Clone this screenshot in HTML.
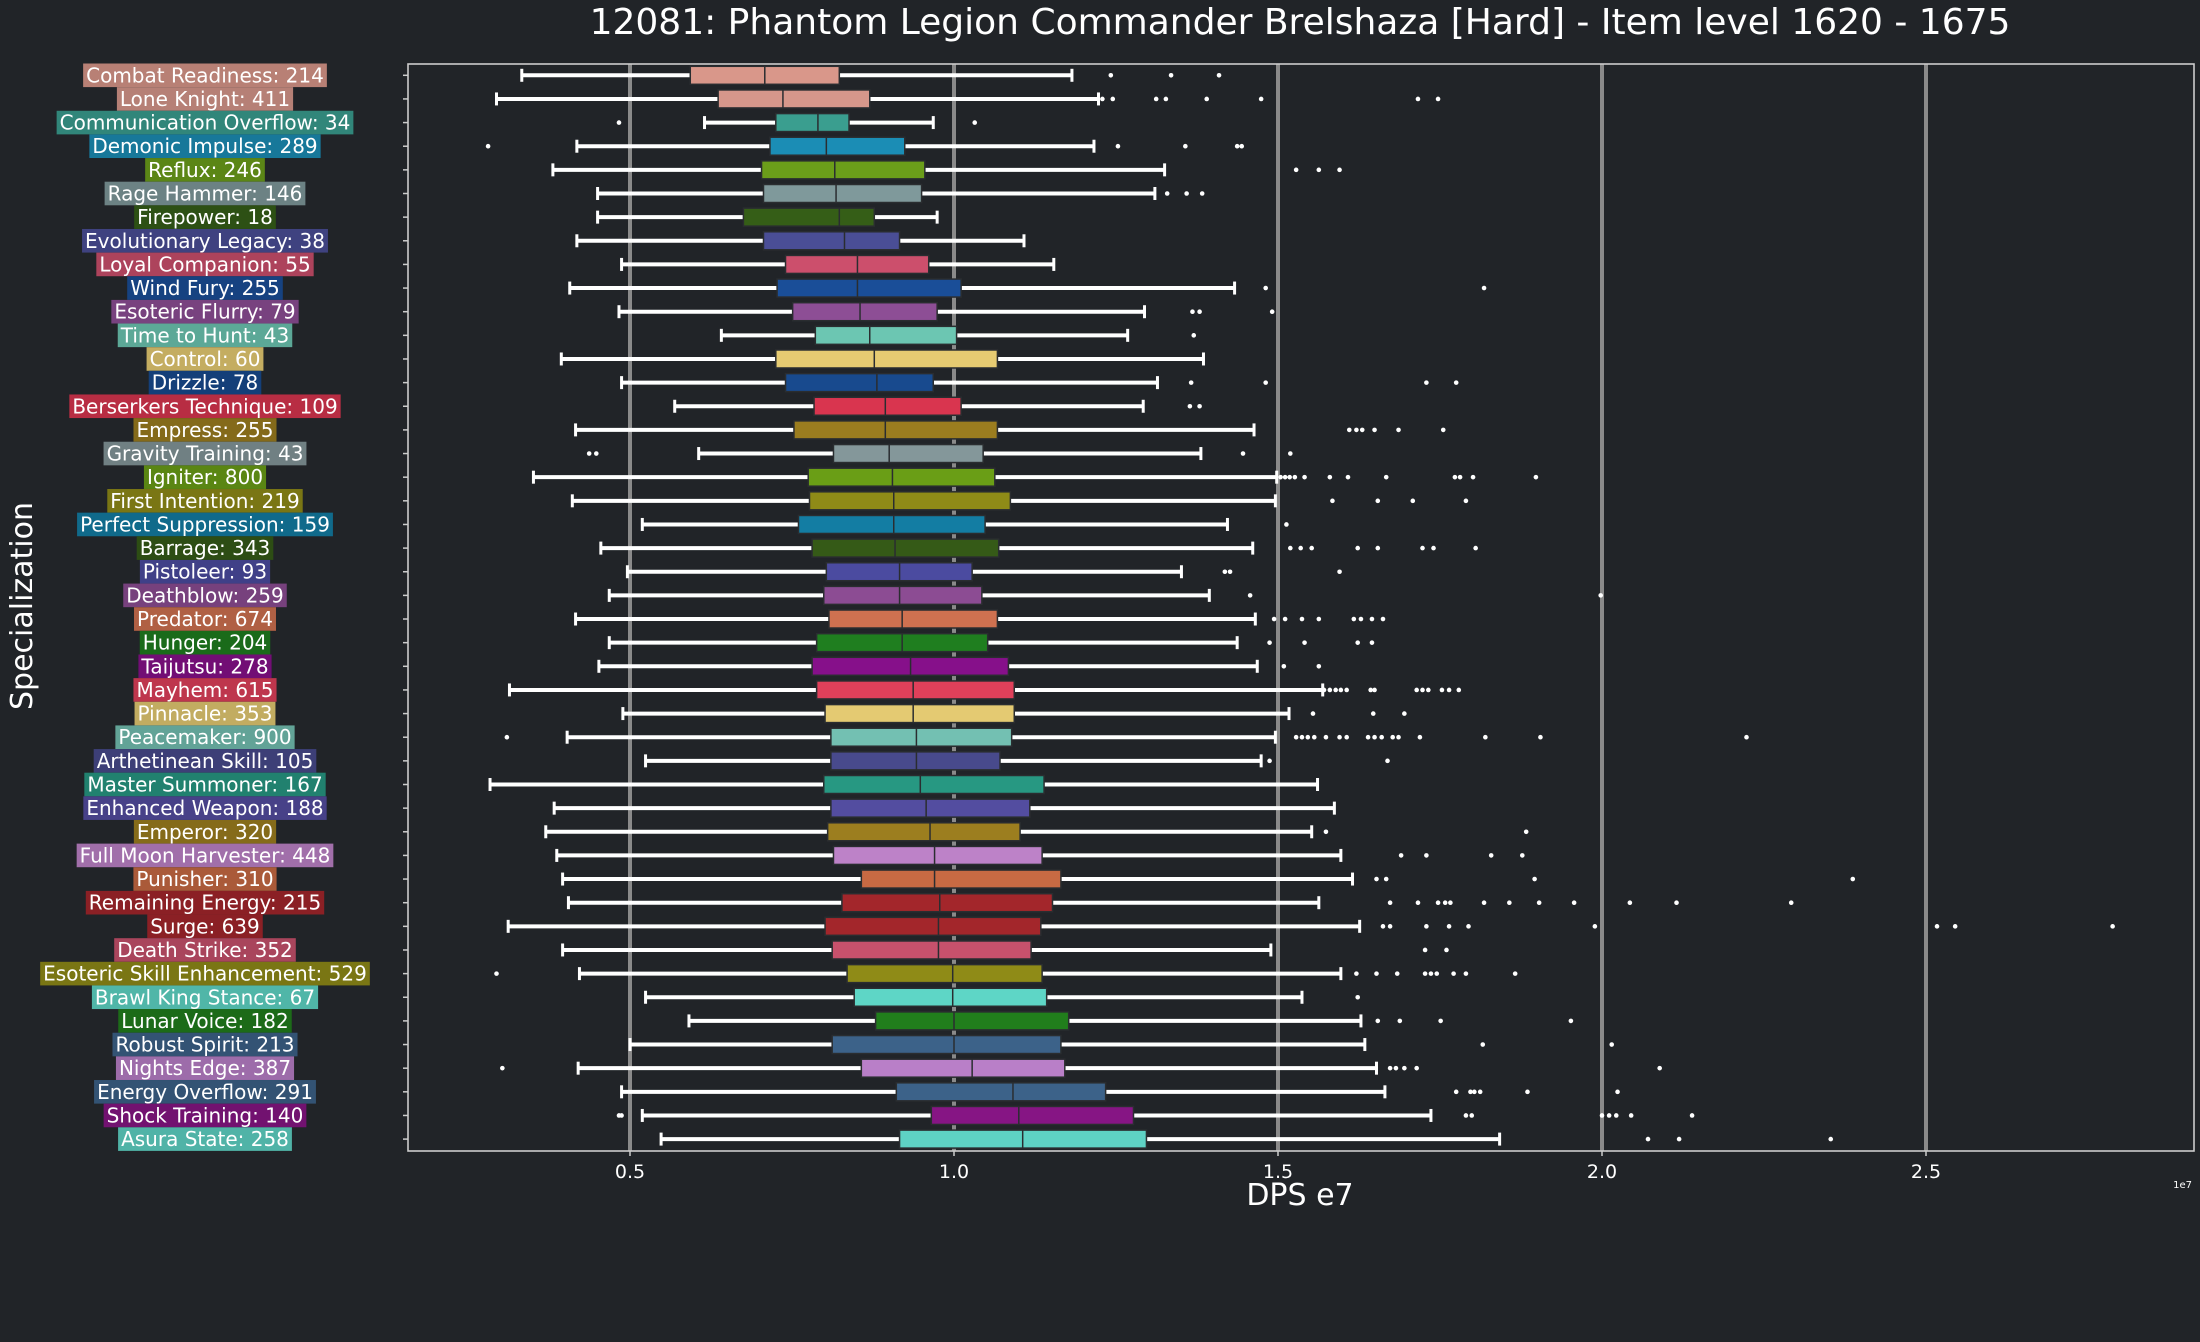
<!DOCTYPE html>
<html><head><meta charset="utf-8"><style>
html,body{margin:0;padding:0;background:#212428;}
svg{display:block;font-family:"DejaVu Sans","Liberation Sans",sans-serif;}
</style></head><body>
<svg id="chart" width="2200" height="1342" viewBox="0 0 2200 1342" xmlns="http://www.w3.org/2000/svg">
<rect x="0" y="0" width="2200" height="1342" fill="#212428"/>
<text x="1300" y="34" fill="#ffffff" font-size="36" text-anchor="middle">12081: Phantom Legion Commander Brelshaza [Hard] - Item level 1620 - 1675</text>
<text transform="translate(32,606) rotate(-90)" fill="#ffffff" font-size="30" text-anchor="middle">Specialization</text>
<text x="1300" y="1205" fill="#ffffff" font-size="30" text-anchor="middle">DPS e7</text>
<text x="2192" y="1188" fill="#ffffff" font-size="10" text-anchor="end">1e7</text>
<g id="grid"></g><g id="boxes"></g><g id="labels"></g><g id="axes"></g>
</svg>
<script>
const names=["Combat Readiness: 214","Lone Knight: 411","Communication Overflow: 34","Demonic Impulse: 289","Reflux: 246","Rage Hammer: 146","Firepower: 18","Evolutionary Legacy: 38","Loyal Companion: 55","Wind Fury: 255","Esoteric Flurry: 79","Time to Hunt: 43","Control: 60","Drizzle: 78","Berserkers Technique: 109","Empress: 255","Gravity Training: 43","Igniter: 800","First Intention: 219","Perfect Suppression: 159","Barrage: 343","Pistoleer: 93","Deathblow: 259","Predator: 674","Hunger: 204","Taijutsu: 278","Mayhem: 615","Pinnacle: 353","Peacemaker: 900","Arthetinean Skill: 105","Master Summoner: 167","Enhanced Weapon: 188","Emperor: 320","Full Moon Harvester: 448","Punisher: 310","Remaining Energy: 215","Surge: 639","Death Strike: 352","Esoteric Skill Enhancement: 529","Brawl King Stance: 67","Lunar Voice: 182","Robust Spirit: 213","Nights Edge: 387","Energy Overflow: 291","Shock Training: 140","Asura State: 258"];
const colors=["#d9978a","#d6978b","#3a9e8f","#1b8db5","#6b9e1a","#7f999b","#355e17","#4a4e96","#cc4f6c","#1a4e98","#8d4e95","#6cc6b2","#e6cb72","#184a8e","#d9354f","#9b7d1f","#84979a","#6a9e16","#8f8b17","#137da3","#355a17","#4b4ba0","#8c4c93","#cf7150","#1f7e1f","#86108a","#e0405a","#e4ca72","#73c0b2","#484a8c","#279882","#534da0","#9c7e1f","#bd82c8","#c86a43","#a3262b","#a3262b","#c7516c","#8f8b17","#5ed6c6","#217e1c","#3c6289","#b97fc8","#3c6289","#861584","#5ed2c4"];
const whiskLo=[0.333,0.294,0.615,0.418,0.381,0.450,0.450,0.418,0.487,0.407,0.483,0.641,0.394,0.487,0.569,0.416,0.606,0.351,0.411,0.519,0.455,0.496,0.468,0.416,0.468,0.452,0.314,0.489,0.403,0.524,0.284,0.383,0.370,0.387,0.396,0.405,0.312,0.396,0.422,0.524,0.591,0.500,0.420,0.487,0.519,0.548];
const q1=[0.593,0.636,0.725,0.716,0.703,0.706,0.675,0.706,0.740,0.727,0.751,0.786,0.725,0.740,0.784,0.753,0.814,0.775,0.777,0.760,0.781,0.803,0.799,0.807,0.788,0.781,0.788,0.801,0.810,0.810,0.799,0.810,0.805,0.814,0.857,0.827,0.801,0.812,0.835,0.846,0.879,0.812,0.857,0.911,0.965,0.916];
const medians=[0.708,0.736,0.790,0.803,0.816,0.818,0.823,0.831,0.851,0.851,0.855,0.870,0.877,0.881,0.894,0.894,0.900,0.905,0.907,0.907,0.909,0.916,0.916,0.920,0.920,0.933,0.937,0.937,0.942,0.942,0.948,0.957,0.963,0.970,0.970,0.978,0.976,0.976,0.998,0.998,1.000,1.000,1.028,1.091,1.100,1.106];
const q3=[0.823,0.870,0.838,0.924,0.955,0.950,0.877,0.916,0.961,1.011,0.974,1.004,1.067,0.968,1.011,1.067,1.045,1.063,1.087,1.048,1.069,1.028,1.043,1.067,1.052,1.084,1.093,1.093,1.089,1.071,1.139,1.117,1.102,1.136,1.165,1.152,1.134,1.119,1.136,1.143,1.177,1.165,1.171,1.234,1.277,1.297];
const whiskHi=[1.182,1.223,0.968,1.216,1.325,1.310,0.974,1.108,1.154,1.433,1.294,1.268,1.385,1.314,1.292,1.463,1.381,1.498,1.496,1.422,1.461,1.351,1.394,1.465,1.437,1.468,1.569,1.517,1.496,1.474,1.561,1.587,1.552,1.597,1.615,1.563,1.626,1.489,1.597,1.537,1.628,1.634,1.652,1.665,1.736,1.842];
const outliers=[[1.242,1.335,1.409],[1.229,1.245,1.312,1.327,1.390,1.474,1.716,1.747],[0.483,1.032],[0.281,1.253,1.357,1.437,1.444],[1.528,1.563,1.595],[1.329,1.359,1.383],[],[],[],[1.481,1.818],[1.368,1.379,1.491],[1.370],[],[1.366,1.481,1.729,1.775],[1.364,1.379],[1.610,1.621,1.630,1.649,1.686,1.755],[0.437,0.448,1.446,1.519],[1.504,1.511,1.518,1.526,1.541,1.580,1.608,1.667,1.773,1.781,1.801,1.898],[1.584,1.654,1.708,1.790],[1.513],[1.519,1.535,1.552,1.623,1.654,1.723,1.740,1.805],[1.418,1.426,1.595],[1.457,1.998],[1.494,1.511,1.537,1.563,1.617,1.628,1.645,1.662],[1.487,1.541,1.623,1.645],[1.509,1.563],[1.571,1.580,1.589,1.597,1.606,1.643,1.649,1.714,1.723,1.732,1.753,1.764,1.779],[1.554,1.647,1.695],[0.310,1.528,1.537,1.546,1.556,1.574,1.595,1.606,1.639,1.649,1.660,1.677,1.686,1.719,1.820,1.905,2.223],[1.487,1.669],[],[],[1.574,1.883],[1.690,1.729,1.829,1.877],[1.652,1.667,1.896,2.387],[1.673,1.716,1.747,1.758,1.766,1.818,1.857,1.903,1.957,2.043,2.115,2.292],[1.662,1.673,1.729,1.764,1.794,1.989,2.517,2.545,2.788],[1.727,1.760],[0.294,1.621,1.652,1.684,1.727,1.736,1.745,1.771,1.790,1.866],[1.623],[1.654,1.688,1.751,1.952],[1.816,2.015],[0.303,1.673,1.682,1.695,1.714,2.089],[1.775,1.797,1.803,1.812,1.885,2.024],[0.483,0.487,1.790,1.799,2.000,2.011,2.022,2.045,2.139],[2.071,2.119,2.353]];
const xTicks=[0.5,1.0,1.5,2.0,2.5];
const xTickLabels=["0.5","1.0","1.5","2.0","2.5"];

const NS="http://www.w3.org/2000/svg";
const L=408,R=2194,T=64,B=1151;
const x=v=>306+v*648;
const y0=75.3,dy=23.64;
const y=i=>y0+i*dy;
function mk(tag,attrs,parent,txt){const e=document.createElementNS(NS,tag);for(const k in attrs)e.setAttribute(k,attrs[k]);if(txt!==undefined)e.textContent=txt;parent.appendChild(e);return e;}
function darken(h,f){const n=parseInt(h.slice(1),16);const r=Math.round(((n>>16)&255)*f),g=Math.round(((n>>8)&255)*f),b=Math.round((n&255)*f);return "rgb("+r+","+g+","+b+")";}
const grid=document.getElementById('grid'),boxes=document.getElementById('boxes'),labels=document.getElementById('labels'),axes=document.getElementById('axes');
xTicks.forEach((t,k)=>{
  const g=mk('line',{x1:x(t),x2:x(t),y1:T,y2:B,stroke:'#8a8a8a','stroke-width':4},grid);
  
  
  const tk=mk('line',{x1:x(t),x2:x(t),y1:B,y2:B+5,stroke:'#ccc','stroke-width':1.5},axes);
  
  
  const tl=mk('text',{x:x(t),y:B+27,fill:'#fff','font-size':19,'text-anchor':'middle'},axes,xTickLabels[k]);
  
  
});
const bh=18;
names.forEach((n,i)=>{
  const cy=y(i);
  const g=mk('g',{},boxes);
  
  
  mk('line',{x1:x(whiskLo[i]),x2:x(q1[i]),y1:cy,y2:cy,stroke:'#fff','stroke-width':4},g);
  mk('line',{x1:x(q3[i]),x2:x(whiskHi[i]),y1:cy,y2:cy,stroke:'#fff','stroke-width':4},g);
  mk('line',{x1:x(whiskLo[i]),x2:x(whiskLo[i]),y1:cy-6.5,y2:cy+6.5,stroke:'#fff','stroke-width':3},g);
  mk('line',{x1:x(whiskHi[i]),x2:x(whiskHi[i]),y1:cy-6.5,y2:cy+6.5,stroke:'#fff','stroke-width':3},g);
  mk('rect',{x:x(q1[i]),y:cy-bh/2,width:x(q3[i])-x(q1[i]),height:bh,fill:colors[i],stroke:'#2a2d30','stroke-width':1.5},g);
  mk('line',{x1:x(medians[i]),x2:x(medians[i]),y1:cy-bh/2,y2:cy+bh/2,stroke:'#2a2d30','stroke-width':1.5},g);
  outliers[i].forEach(v=>{
    const c=mk('circle',{cx:x(v),cy:cy,r:2.3,fill:'#fff'},g);
    
    
  });
  const tk=mk('line',{x1:L-5,x2:L,y1:cy,y2:cy,stroke:'#ccc','stroke-width':1.5},axes);
  
  
  const lg=mk('g',{},labels);
  
  
  const bg=mk('rect',{x:0,y:cy-11.8,height:23.6,fill:darken(colors[i],0.85)},lg);
  const t=mk('text',{x:205,y:cy+7,fill:'#fff','font-size':20,'text-anchor':'middle'},lg,n);
  const w=t.getComputedTextLength()+6;
  bg.setAttribute('x',205-w/2);bg.setAttribute('width',w);
});
const fr=mk('rect',{x:L,y:T,width:R-L,height:B-T,fill:'none',stroke:'#cccccc','stroke-width':1.6},axes);


</script>
</body></html>
